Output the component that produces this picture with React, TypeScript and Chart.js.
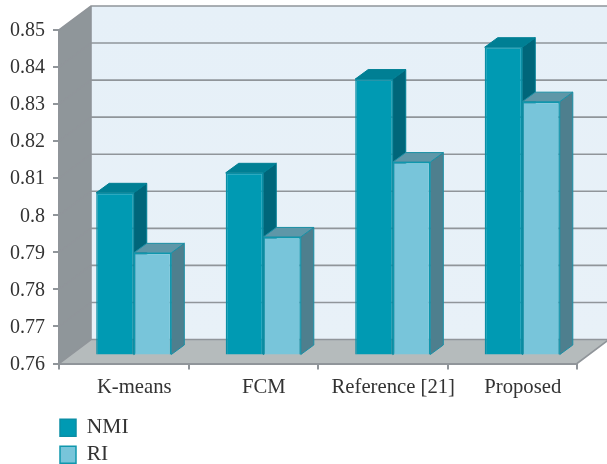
import React, { useEffect, useRef } from "react";
import { Chart, registerables } from "chart.js";

Chart.register(...registerables);

const categories = ["K-means", "FCM", "Reference [21]", "Proposed"];
const nmiValues = [0.8039, 0.8093, 0.8346, 0.8432];
const riValues = [0.7877, 0.792, 0.8122, 0.8285];
const seriesNames = ["NMI", "RI"];
const axisMin = 0.76;
const axisMax = 0.85;

const FONT = '"Liberation Serif", serif';
const TEXT = "#333333";
const GRID = "#90959a";
const WALL_DX = 32;
const WALL_DY = 24;
const BAR_SHIFT_X = 10;
const BAR_SHIFT_Y = 8;
const BAR_DX = 13;
const BAR_DY = 9.5;

const faceColors = [
  { top: "#007f94", side: "#00667a", edge: "#007f94" },
  { top: "#5e97a8", side: "#4e7f8e", edge: "#1a8fa5" },
];

const poly = (ctx: CanvasRenderingContext2D, pts: number[][], fill: string | CanvasGradient, stroke?: string) => {
  ctx.beginPath();
  pts.forEach(([x, y], i) => (i ? ctx.lineTo(x, y) : ctx.moveTo(x, y)));
  ctx.closePath();
  ctx.fillStyle = fill;
  ctx.fill();
  if (stroke) {
    ctx.strokeStyle = stroke;
    ctx.lineWidth = 1;
    ctx.stroke();
  }
};

const box3d = {
  id: "box3d",
  beforeDraw(chart: any) {
    const { ctx, chartArea: a, scales } = chart;
    const y = scales.y;
    ctx.save();
    const W = a.right + WALL_DX;
    const g = ctx.createLinearGradient(0, a.top - WALL_DY, 0, a.bottom - WALL_DY);
    g.addColorStop(0, "#e6f0f8");
    g.addColorStop(1, "#e8f1f8");
    poly(ctx, [[a.left + WALL_DX, a.top - WALL_DY], [W, a.top - WALL_DY], [W, a.bottom - WALL_DY], [a.left + WALL_DX, a.bottom - WALL_DY]], g);
    poly(ctx, [[a.left, a.top], [a.left + WALL_DX, a.top - WALL_DY], [a.left + WALL_DX, a.bottom - WALL_DY], [a.left, a.bottom]], "#8f969a");
    poly(ctx, [[a.left, a.bottom], [a.right, a.bottom], [W, a.bottom - WALL_DY], [a.left + WALL_DX, a.bottom - WALL_DY]], "#b5bbbc");
    ctx.strokeStyle = GRID;
    ctx.lineWidth = 1.6;
    y.ticks.forEach((t: any) => {
      const p = y.getPixelForValue(t.value);
      ctx.beginPath();
      ctx.moveTo(a.left, p);
      ctx.lineTo(a.left + WALL_DX, p - WALL_DY);
      ctx.lineTo(W, p - WALL_DY);
      ctx.stroke();
    });
    ctx.beginPath();
    ctx.moveTo(a.left + WALL_DX, a.top - WALL_DY);
    ctx.lineTo(a.left + WALL_DX, a.bottom - WALL_DY);
    ctx.moveTo(a.right, a.bottom);
    ctx.lineTo(W, a.bottom - WALL_DY);
    ctx.stroke();
    ctx.restore();
  },
  afterLayout(chart: any) {
    const l = chart.legend;
    if (l) {
      l.left = 54.5;
      l.right = 140;
      l.top = 411.5;
      l.bottom = 464;
    }
  },
  beforeDatasetsDraw(chart: any) {
    const { ctx } = chart;
    ctx.save();
    ctx.translate(BAR_SHIFT_X, -BAR_SHIFT_Y);
    // depth faces first, left series to right series; the front faces follow from the library
    chart.data.datasets.forEach((_: any, i: number) => {
      const c = faceColors[i];
      chart.getDatasetMeta(i).data.forEach((bar: any) => {
        const { x, y, base, width } = bar.getProps(["x", "y", "base", "width"], true);
        const l = x - width / 2;
        const r = x + width / 2;
        poly(ctx, [[r, y], [r + BAR_DX, y - BAR_DY], [r + BAR_DX, base - BAR_DY], [r, base]], c.side, c.edge);
        poly(ctx, [[l, y], [l + BAR_DX, y - BAR_DY], [r + BAR_DX, y - BAR_DY], [r, y]], c.top, c.edge);
      });
    });
  },
  afterDatasetsDraw(chart: any) {
    chart.ctx.restore();
  },
};

export default function App() {
  const ref = useRef<HTMLCanvasElement>(null);
  useEffect(() => {
    const chart = new Chart(ref.current!, {
      type: "bar",
      plugins: [box3d],
      data: {
        labels: categories,
        datasets: [
          {
            label: seriesNames[0],
            data: nmiValues,
            base: axisMin,
            backgroundColor: "#009ab3",
            borderColor: "#0a8ea5",
            borderWidth: 1.5,
            clip: false,
          },
          {
            label: seriesNames[1],
            data: riValues,
            base: axisMin,
            backgroundColor: "#78c5da",
            borderColor: "#0f97ad",
            borderWidth: 1.5,
            clip: false,
          },
        ],
      } as any,
      options: {
        animation: false,
        responsive: false,
        devicePixelRatio: 1,
        layout: { padding: { top: 30, right: 30, bottom: 0, left: 0 } },
        datasets: { bar: { categoryPercentage: 0.58, barPercentage: 1 } },
        plugins: {
          title: { display: false },
          tooltip: { enabled: false },
          legend: {
            position: "bottom",
            align: "start",
            labels: {
              boxWidth: 16,
              boxHeight: 17,
              padding: 5.5,
              color: TEXT,
              font: { family: FONT, size: 21.5 },
            },
          },
        },
        scales: {
          x: {
            afterFit: (s: any) => {
              s.height = 63.5;
            },
            grid: { drawOnChartArea: false, color: GRID, lineWidth: 2, tickLength: 6 },
            border: { color: GRID, width: 2 },
            ticks: {
              color: TEXT,
              font: { family: FONT, size: 20.7 },
              labelOffset: 10.5,
              padding: 5.5,
              maxRotation: 0,
              autoSkip: false,
            },
          },
          y: {
            min: axisMin,
            max: axisMax,
            afterFit: (s: any) => {
              s.width = 59;
            },
            grid: { drawOnChartArea: false, color: GRID, lineWidth: 2, tickLength: 6 },
            border: { color: GRID, width: 2 },
            ticks: {
              stepSize: 0.01,
              color: TEXT,
              font: { family: FONT, size: 20 },
              padding: 8,
              labelOffset: 1,
              callback: (v: any) => String(+Number(v).toFixed(2)),
            },
          },
        },
      } as any,
    });
    return () => chart.destroy();
  }, []);
  return (
    <div style={{ position: "absolute", left: 0, top: 0, width: 607, height: 464, background: "#fff" }}>
      <canvas ref={ref} width={607} height={464} style={{ display: "block" }} />
    </div>
  );
}
